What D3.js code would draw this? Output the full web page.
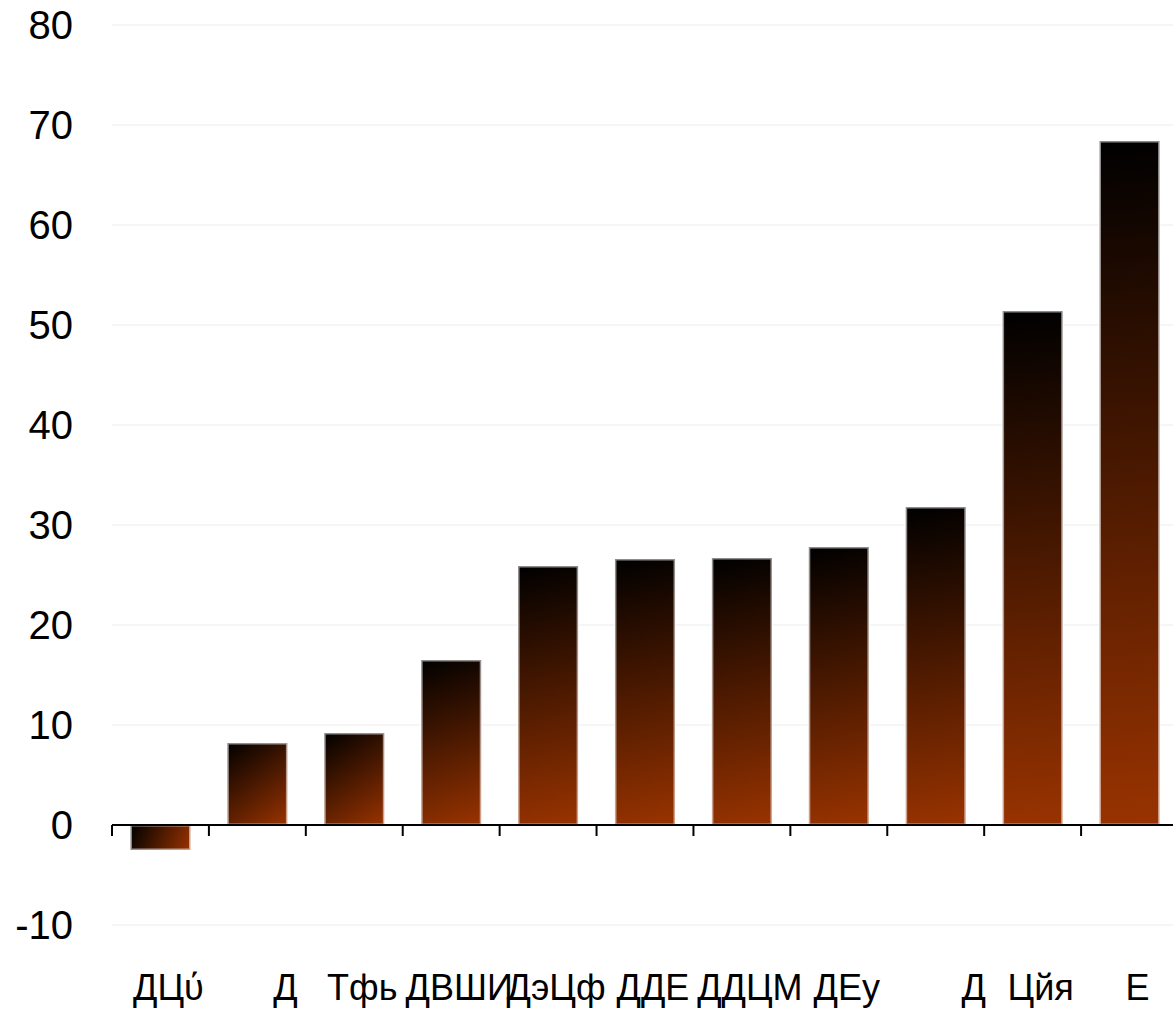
<!DOCTYPE html>
<html>
<head>
<meta charset="utf-8">
<script src="https://cdn.jsdelivr.net/npm/d3@7"></script>
<style>
  html, body { margin: 0; padding: 0; background: #fff; }
  svg { display: block; }
</style>
</head>
<body>
<svg id="chart" width="1173" height="1013"></svg>
<script>
const categories = ["ДЦύ", "\u00a0\u00a0\u00a0\u00a0Д", "Тфь", "ДВШИ", "ДэЦф", "ДДЕ", "ДДЦМ", "ДЕу", "\u00a0\u00a0\u00a0\u00a0\u00a0\u00a0Д", "Цйя", "Е"];
const values = [-2.5, 8.2, 9.2, 16.5, 25.9, 26.6, 26.7, 27.8, 31.8, 51.4, 68.4];
const yTicks = [-10, 0, 10, 20, 30, 40, 50, 60, 70, 80];

(function () {
const svg = d3.select("#chart");
const W = 1173;
const mLeft = 112, mRight = 1178, mTop = 25, mBottom = 925;

const x = d3.scaleBand().domain(categories).range([mLeft, mRight]).paddingInner(0.38).paddingOuter(0.19);
const y = d3.scaleLinear().domain([-10, 80]).range([mBottom, mTop]);

const bx = (d, i) => x(categories[i]);
const by = d => y(Math.max(0, d));
const bh = d => Math.abs(y(d) - y(0));

const defs = svg.append("defs");
const grads = defs.selectAll("linearGradient").data(values).join("linearGradient")
  .attr("id", (d, i) => "barGrad" + i)
  .attr("gradientUnits", "userSpaceOnUse")
  .attr("x1", (d, i) => bx(d, i)).attr("y1", d => by(d))
  .attr("x2", (d, i) => bx(d, i) + x.bandwidth()).attr("y2", d => by(d) + bh(d));
grads.append("stop").attr("offset", "0%").attr("stop-color", "#000000");
grads.append("stop").attr("offset", "100%").attr("stop-color", "#993300");

// grid
svg.append("g").selectAll("line").data(yTicks).join("line")
  .attr("x1", mLeft).attr("x2", W)
  .attr("y1", d => y(d)).attr("y2", d => y(d))
  .attr("stroke", "#ececec").attr("stroke-width", 1);

// y labels
svg.append("g").selectAll("text").data(yTicks).join("text")
  .attr("x", 73).attr("y", d => y(d)).attr("dy", "0.35em")
  .attr("text-anchor", "end")
  .attr("font-family", "Liberation Sans, Arial, sans-serif")
  .attr("font-size", 40).attr("fill", "#000")
  .text(d => d);

// bars
svg.append("g").selectAll("rect").data(values).join("rect")
  .attr("x", bx)
  .attr("width", x.bandwidth())
  .attr("y", by)
  .attr("height", bh)
  .attr("fill", (d, i) => `url(#barGrad${i})`)
  .attr("stroke", "rgba(255,255,255,0.55)")
  .attr("stroke-width", 3);

// x axis
const xAxis = svg.append("g").attr("transform", `translate(0,${y(0)})`);
xAxis.append("line").attr("x1", mLeft).attr("x2", mRight).attr("y1", 0).attr("y2", 0)
  .attr("stroke", "#000").attr("stroke-width", 2);
const bounds = d3.range(categories.length + 1).map(i => mLeft + i * x.step());
xAxis.selectAll("line.tick").data(bounds).join("line").attr("class", "tick")
  .attr("x1", d => d).attr("x2", d => d).attr("y1", 0).attr("y2", 11)
  .attr("stroke", "#000").attr("stroke-width", 2);

// x labels
svg.append("g").selectAll("text").data(categories).join("text")
  .attr("x", d => x(d) + x.bandwidth() / 2 + 8)
  .attr("y", 1000)
  .attr("text-anchor", "middle")
  .attr("font-family", "Liberation Sans, Arial, sans-serif")
  .attr("font-size", 36).attr("fill", "#000")
  .style("white-space", "pre")
  .text(d => d);
})();
</script>
</body>
</html>
